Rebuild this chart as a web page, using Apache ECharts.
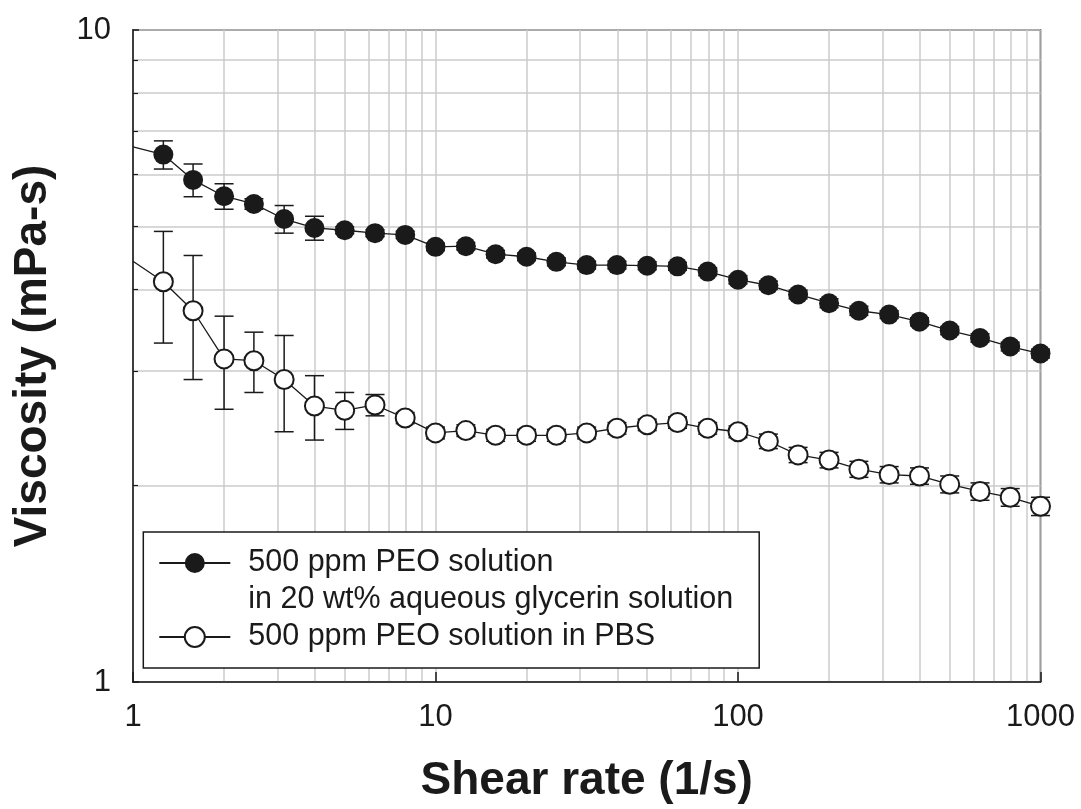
<!DOCTYPE html>
<html>
<head>
<meta charset="utf-8">
<style>
    html, body { margin: 0; padding: 0; background: #fff; }
    #chart { width: 1081px; height: 809px; }
</style>
</head>
<body>
<div id="chart"></div>
<script src="https://cdn.jsdelivr.net/npm/echarts@6/dist/echarts.min.js"></script>
<script>
    // shear rate (1/s), 10 points per decade
    var shearRate = [1, 1.26, 1.58, 2, 2.51, 3.16, 3.98, 5.01, 6.31, 7.94, 10,
        12.6, 15.8, 20, 25.1, 31.6, 39.8, 50.1, 63.1, 79.4, 100,
        126, 158, 200, 251, 316, 398, 501, 631, 794, 1000];
    // viscosity (mPa-s), 20 wt% glycerin
    var glycerinVisc = [6.62, 6.44, 5.89, 5.56, 5.41, 5.13, 4.97, 4.93, 4.88, 4.85, 4.65,
        4.66, 4.53, 4.49, 4.41, 4.36, 4.36, 4.35, 4.34, 4.26, 4.14,
        4.06, 3.93, 3.81, 3.71, 3.66, 3.57, 3.46, 3.37, 3.27, 3.19];
    var glycerinErr = [0, 0.32, 0.34, 0.25, 0.10, 0.25, 0.21, 0.06, 0.06, 0.06, 0.06,
        0.06, 0.06, 0.06, 0.06, 0.06, 0.06, 0.06, 0.06, 0.06, 0.06,
        0.06, 0.06, 0.06, 0.06, 0.05, 0.05, 0.05, 0.05, 0.05, 0.05];
    // viscosity (mPa-s), PBS
    var pbsVisc = [4.42, 4.11, 3.71, 3.13, 3.11, 2.91, 2.65, 2.61, 2.66, 2.54, 2.41,
        2.43, 2.39, 2.39, 2.39, 2.41, 2.45, 2.48, 2.50, 2.45, 2.42,
        2.34, 2.23, 2.19, 2.12, 2.08, 2.07, 2.01, 1.96, 1.92, 1.86];
    var pbsErr = [0, 0.80, 0.80, 0.51, 0.33, 0.49, 0.30, 0.17, 0.10, 0.05, 0.05,
        0.05, 0.05, 0.05, 0.05, 0.05, 0.05, 0.05, 0.05, 0.05, 0.05,
        0.06, 0.06, 0.06, 0.06, 0.06, 0.06, 0.06, 0.06, 0.06, 0.06];
    var xTickLabels = [1, 10, 100, 1000];
    var yTickLabels = [1, 10];

    var nameGly = '500 ppm PEO solution\nin 20 wt% aqueous glycerin solution';
    var namePbs = '500 ppm PEO solution in PBS';
    var FONT = '"Liberation Sans", Arial, sans-serif';
    var INK = '#1a1a1a';
    var GRID = '#cbcbcb';

    function lineData(vals) {
        return shearRate.map(function (x, i) {
            // first point only starts the line, no marker
            if (i === 0) return { value: [x, vals[i]], symbol: 'none' };
            return [x, vals[i]];
        });
    }
    function errData(vals, errs) {
        var out = [];
        for (var i = 1; i < shearRate.length; i++) {
            out.push([shearRate[i], vals[i] - errs[i], vals[i] + errs[i]]);
        }
        return out;
    }
    function renderErr(params, api) {
        var top = api.coord([api.value(0), api.value(2)]);
        var bot = api.coord([api.value(0), api.value(1)]);
        var hw = 9.5;
        var st = { stroke: INK, lineWidth: 1.5 };
        return {
            type: 'group',
            children: [
                { type: 'line', shape: { x1: top[0], y1: top[1], x2: bot[0], y2: bot[1] }, style: st },
                { type: 'line', shape: { x1: top[0] - hw, y1: top[1], x2: top[0] + hw, y2: top[1] }, style: st },
                { type: 'line', shape: { x1: bot[0] - hw, y1: bot[1], x2: bot[0] + hw, y2: bot[1] }, style: st }
            ]
        };
    }

    var myChart = echarts.init(document.getElementById('chart'));
    myChart.setOption({
        animation: false,
        textStyle: { fontFamily: FONT, color: INK },
        grid: {
            left: 133, right: 40.5, top: 30, bottom: 127,
            show: true, borderColor: INK, borderWidth: 1.5, backgroundColor: 'transparent'
        },
        legend: {
            orient: 'vertical',
            left: 143.3,
            top: 532,
            padding: [12.5, 26, 12.5, 15],
            itemGap: 3,
            itemWidth: 71,
            itemHeight: 25,
            backgroundColor: '#fff',
            borderColor: INK,
            borderWidth: 1.5,
            selectedMode: false,
            z: 4,
            data: [
                { name: nameGly, textStyle: { height: 37 } },
                { name: namePbs }
            ],
            formatter: function (name) {
                return name.split('\n').map(function (s) { return '{t|' + s + '}'; }).join('\n');
            },
            textStyle: {
                fontFamily: FONT, fontSize: 30.5, color: INK, lineHeight: 37,
                padding: [0, 0, 0, 13],
                rich: { t: { fontFamily: FONT, fontSize: 30.5, color: INK, lineHeight: 37 } }
            }
        },
        xAxis: {
            type: 'log',
            logBase: 10,
            min: 1,
            max: 1000,
            name: 'Shear rate (1/s)',
            nameLocation: 'middle',
            nameGap: 76,
            nameTextStyle: { fontFamily: FONT, fontSize: 46, fontWeight: 'bold', color: INK },
            axisLine: { show: true, lineStyle: { color: INK, width: 1.5 } },
            axisTick: { show: true, inside: true, length: 10, lineStyle: { color: INK, width: 1.5 } },
            minorTick: { show: false, splitNumber: 9 },
            axisLabel: {
                margin: 20, fontFamily: FONT, fontSize: 31, color: INK,
                formatter: function (v) { return xTickLabels.indexOf(v) >= 0 ? String(v) : ''; }
            },
            splitLine: { show: true, lineStyle: { color: GRID, width: 1.5 } },
            minorSplitLine: { show: true, lineStyle: { color: GRID, width: 1.5 } }
        },
        yAxis: {
            type: 'log',
            logBase: 10,
            min: 1,
            max: 10,
            name: 'Viscosity (mPa-s)',
            nameLocation: 'middle',
            nameGap: 77,
            nameTextStyle: { fontFamily: FONT, fontSize: 46, fontWeight: 'bold', color: INK },
            axisLine: { show: true, lineStyle: { color: INK, width: 1.5 } },
            axisTick: { show: true, inside: true, length: 6, lineStyle: { color: INK, width: 1.5 } },
            minorTick: { show: true, splitNumber: 9, length: 5, lineStyle: { color: INK, width: 1.2 } },
            axisLabel: {
                margin: 22, fontFamily: FONT, fontSize: 31, color: INK,
                formatter: function (v) { return yTickLabels.indexOf(v) >= 0 ? String(v) : ''; }
            },
            splitLine: { show: true, lineStyle: { color: GRID, width: 1.5 } },
            minorSplitLine: { show: true, lineStyle: { color: GRID, width: 1.5 } }
        },
        series: [
            {
                name: 'err-gly',
                type: 'custom',
                renderItem: renderErr,
                data: errData(glycerinVisc, glycerinErr),
                encode: { x: 0, y: [1, 2] },
                z: 2,
                silent: true
            },
            {
                name: 'err-pbs',
                type: 'custom',
                renderItem: renderErr,
                data: errData(pbsVisc, pbsErr),
                encode: { x: 0, y: [1, 2] },
                z: 2,
                silent: true
            },
            {
                name: nameGly,
                type: 'line',
                data: lineData(glycerinVisc),
                symbol: 'circle',
                symbolSize: 20,
                color: INK,
                itemStyle: { color: INK },
                lineStyle: { color: INK, width: 1.3 },
                z: 3
            },
            {
                name: namePbs,
                type: 'line',
                data: lineData(pbsVisc),
                symbol: 'emptyCircle',
                symbolSize: 19,
                color: INK,
                itemStyle: { color: INK, borderWidth: 1.5 },
                lineStyle: { color: INK, width: 1.3 },
                z: 3
            }
        ]
    });
    window.addEventListener('resize', function () { myChart.resize(); });
</script>
</body>
</html>
